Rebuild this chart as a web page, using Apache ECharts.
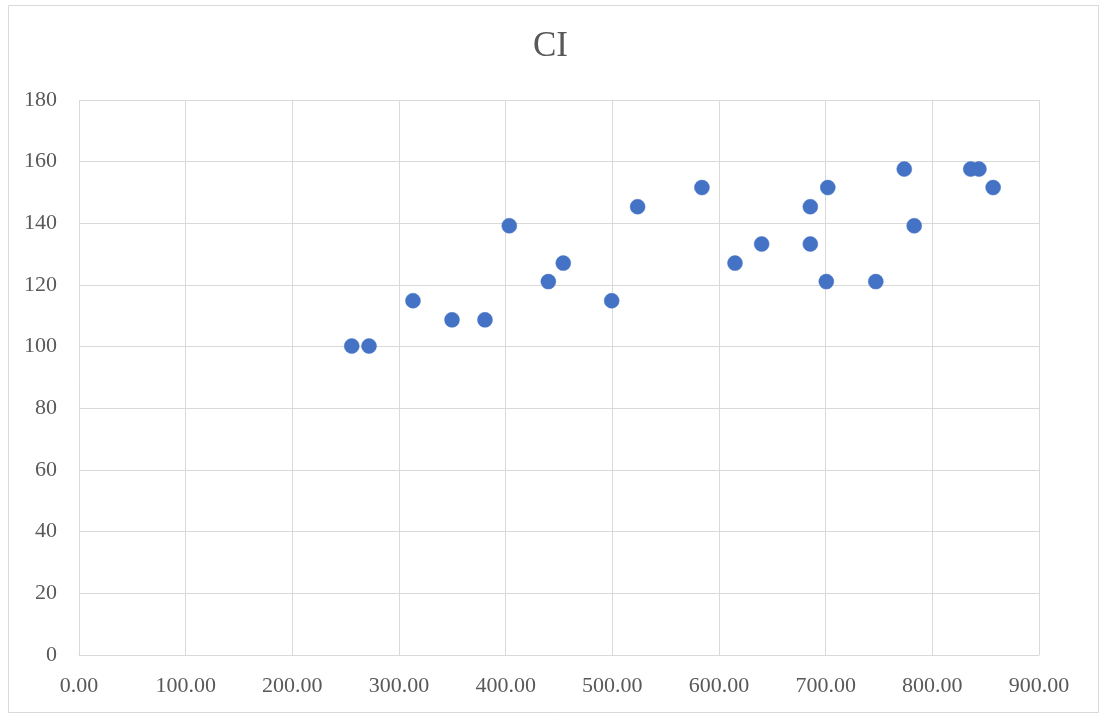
<!DOCTYPE html>
<html>
<head>
<meta charset="utf-8">
<script src="https://cdn.jsdelivr.net/npm/echarts@6/dist/echarts.min.js"></script>
<style>
html,body{margin:0;padding:0;background:#fff;}
#chart{width:1101px;height:713px;}
</style>
</head>
<body>
<div id="chart"></div>
<script>
const title = "CI";
const xValues = [255.7, 271.9, 313.1, 349.7, 380.6, 403.4, 440.0, 454.0, 499.4, 523.7, 584.0, 615.0, 640.0, 685.6, 685.6, 700.6, 702.0, 747.0, 773.7, 783.0, 836.0, 843.7, 857.0];
const yValues = [100.2, 100.2, 114.9, 108.7, 108.7, 139.2, 121.1, 127.1, 114.9, 145.4, 151.6, 127.1, 133.3, 145.4, 133.3, 121.1, 151.6, 121.1, 157.6, 139.2, 157.6, 157.6, 151.6];
const xAxisMin = 0, xAxisMax = 900, xAxisStep = 100;
const yAxisMin = 0, yAxisMax = 180, yAxisStep = 20;

const points = xValues.map((x, i) => [x, yValues[i]]);
const chart = echarts.init(document.getElementById('chart'), null, {renderer: 'canvas'});
const font = '"Liberation Serif", "Times New Roman", serif';
chart.setOption({
  animation: false,
  backgroundColor: '#ffffff',
  graphic: [{
    type: 'rect', left: 6, top: 3, shape: {width: 1090, height: 707},
    style: {fill: 'none', stroke: '#d9d9d9', lineWidth: 1}, silent: true
  }],
  title: {
    text: title, left: 'center', top: 24,
    textStyle: {fontFamily: font, fontSize: 35, fontWeight: 'normal', color: '#595959'}
  },
  grid: {left: 79, right: 62, top: 100, bottom: 58, containLabel: false},
  xAxis: {
    type: 'value', min: xAxisMin, max: xAxisMax, interval: xAxisStep,
    axisLine: {show: true, lineStyle: {color: '#d9d9d9', width: 1}},
    axisTick: {show: false},
    splitLine: {show: true, lineStyle: {color: '#d9d9d9', width: 1}},
    axisLabel: {fontFamily: font, fontSize: 22, color: '#595959', margin: 20,
      formatter: v => v.toFixed(2)}
  },
  yAxis: {
    type: 'value', min: yAxisMin, max: yAxisMax, interval: yAxisStep,
    axisLine: {show: false},
    axisTick: {show: false},
    splitLine: {show: true, lineStyle: {color: '#d9d9d9', width: 1}},
    axisLabel: {fontFamily: font, fontSize: 22, color: '#595959', margin: 22}
  },
  series: [{
    type: 'scatter', data: points, symbol: 'circle', symbolSize: 15,
    itemStyle: {color: '#4472c4', borderColor: '#4472c4', borderWidth: 0.5, opacity: 1}
  }]
});
</script>
</body>
</html>
